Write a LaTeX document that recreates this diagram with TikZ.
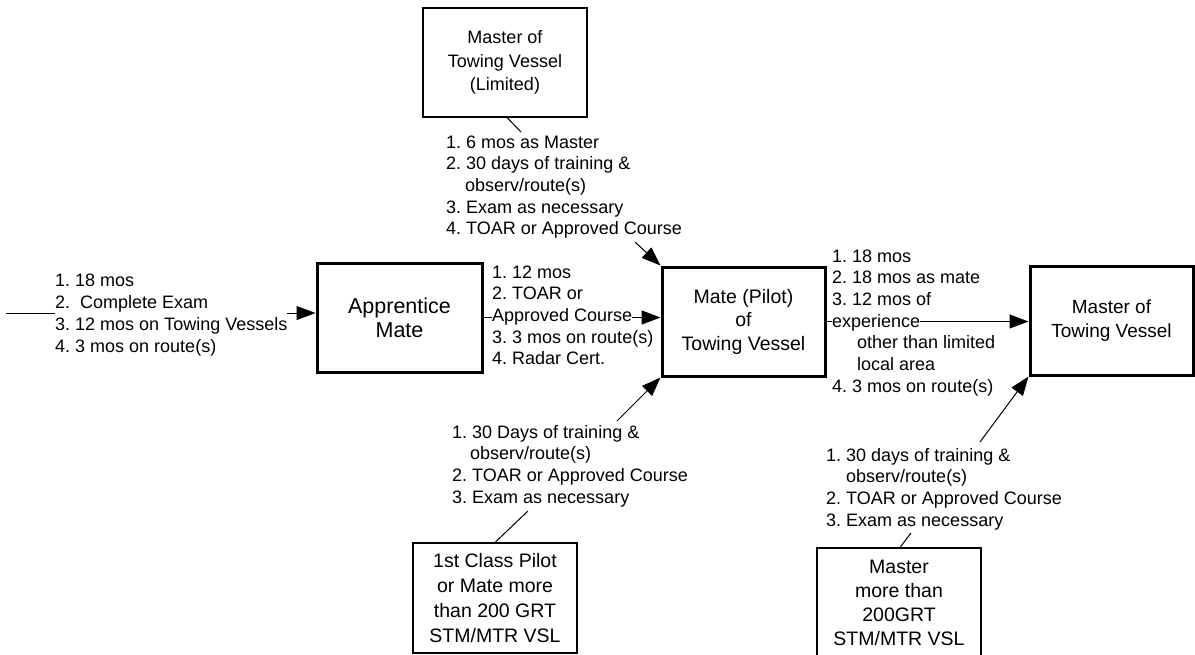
\documentclass[tikz,border=0pt]{standalone}
\usepackage{fontspec}
\setmainfont{Liberation Sans}
\usetikzlibrary{arrows.meta}
\newcommand{\widerow}[1]{\makebox[232pt][l]{#1}}
\begin{document}
\frenchspacing
\begin{tikzpicture}[x=1pt,y=-1pt,
  thickbox/.style={draw, line width=3pt, minimum width=163pt, minimum height=109pt, inner sep=0pt, align=center},
  thinbox/.style={draw, line width=1.1pt, minimum width=164pt, minimum height=109pt, inner sep=0pt, align=center},
  row/.style={anchor=base west, fill=white, inner sep=0pt, text height=15pt, text depth=6.5pt, font=\fontsize{18}{21.7}\selectfont},
  conn/.style={line width=1pt},
  arr/.style={line width=1pt, -{Triangle[length=19pt,width=14pt]}}
]
\useasboundingbox (0,0) rectangle (1195,654);
\clip (0,0) rectangle (1195,654);

% boxes
\node[thinbox, font=\fontsize{18}{23.5}\selectfont] (lim) at (505,62.5) {Master of\\Towing Vessel\\(Limited)};
\node[thickbox, minimum width=165pt, font=\fontsize{21.5}{24}\selectfont] (app) at (399.5,317.5) {Apprentice\\Mate};
\node[thickbox, font=\fontsize{19.5}{23.5}\selectfont] (mate) at (743.5,321.5) {Mate (Pilot)\\of\\Towing Vessel};
\node[thickbox, font=\fontsize{19}{23.3}\selectfont] (master) at (1111.5,320.5) {Master of\\Towing Vessel};
\node[thinbox, minimum height=110pt, font=\fontsize{19.5}{24.8}\selectfont] (bl) at (495,598) {1st Class Pilot\\or Mate more\\than 200 GRT\\STM/MTR VSL};
\node[thinbox, minimum height=110pt, font=\fontsize{19.5}{24}\selectfont] (br) at (899,603) {Master\\more than\\200GRT\\STM/MTR VSL};

% free ends
\coordinate (lstart) at (6,313);
\coordinate (limend) at (521,132);
\coordinate (toptail) at (635,242);
\coordinate (bltail) at (617,421);
\coordinate (blend) at (528,511);
\coordinate (brtail) at (980,442);
\coordinate (brend) at (911,533);

% connectors
\draw[arr] (lstart) -- (app.west |- lstart);
\draw[arr] (app.east) -- (mate.west |- app.east);
\draw[arr] (mate.east) -- (master.west |- mate.east);
\draw[arr] (toptail) -- (mate.north west);
\draw[arr] (bltail) -- (mate.south west);
\draw[arr] (brtail) -- (master.south west);
\draw[conn] (lim.south) ++(2,0) coordinate (limfoot) -- (limend);
\draw[conn] (bl.north) -- (blend);
\draw[conn] (br.north) ++(1,0) coordinate (brfoot) -- (brend);

% left list
\node[row] (la) at (55,286) {\widerow{1. 18 mos}};
\node[row] (lb) at (55,308.3) {\widerow{2.\ \ Complete Exam}};
\node[row] (lc) at (55,330.6) {\widerow{3. 12 mos on Towing Vessels}};
\node[row] (ld) at (55,352.9) {\widerow{4. 3 mos on route(s)}};

% apprentice -> mate list
\node[row] (ma) at (492,278) {1. 12 mos};
\node[row] (mb) at (492,299.7) {2. TOAR or};
\node[row] (mc) at (492,321.4) {Approved Course};
\node[row] (md) at (492,343.1) {3. 3 mos on route(s)};
\node[row] (me) at (492,364.8) {4. Radar Cert.};

% top list
\node[row] (ta) at (446,148) {1. 6 mos as Master};
\node[row] (tb) at (446,169.7) {2. 30 days of training \&};
\node[row] (tc) at (465,191.4) {observ/route(s)};
\node[row] (td) at (446,213.1) {3. Exam as necessary};
\node[row] (te) at (446,234.8) {4. TOAR or Approved Course};

% mate -> master list
\node[row] (ra) at (832,262) {1. 18 mos};
\node[row] (rb) at (832,283.7) {2. 18 mos as mate};
\node[row] (rc) at (832,305.4) {3. 12 mos of};
\node[row] (rd) at (832,327.1) {experience};
\node[row] (re) at (857,348.8) {other than limited};
\node[row] (rf) at (857,370.5) {local area};
\node[row] (rg) at (832,392.2) {4. 3 mos on route(s)};

% bottom-left list
\node[row] (ba) at (452,438) {1. 30 Days of training \&};
\node[row] (bb) at (470,459.7) {observ/route(s)};
\node[row] (bc) at (452,481.4) {2. TOAR or Approved Course};
\node[row] (bd) at (452,503.1) {3. Exam as necessary};

% bottom-right list
\node[row] (ca) at (826,461) {1. 30 days of training \&};
\node[row] (cb) at (846,482.7) {observ/route(s)};
\node[row] (cc) at (826,504.4) {2. TOAR or Approved Course};
\node[row] (cd) at (826,526.1) {3. Exam as necessary};
\end{tikzpicture}
\end{document}
